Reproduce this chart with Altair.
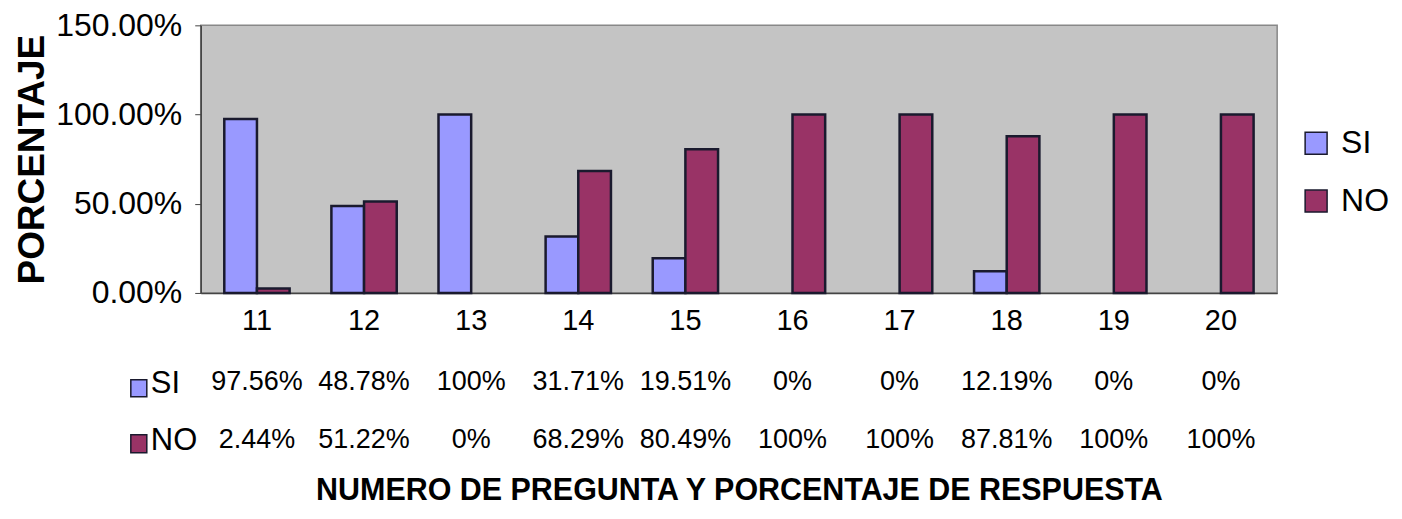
import altair as alt
import pandas as pd

preguntas = ["11", "12", "13", "14", "15", "16", "17", "18", "19", "20"]
si_vals = [97.56, 48.78, 100, 31.71, 19.51, 0, 0, 12.19, 0, 0]
no_vals = [2.44, 51.22, 0, 68.29, 80.49, 100, 100, 87.81, 100, 100]
si_text = ["97.56%", "48.78%", "100%", "31.71%", "19.51%", "0%", "0%", "12.19%", "0%", "0%"]
no_text = ["2.44%", "51.22%", "0%", "68.29%", "80.49%", "100%", "100%", "87.81%", "100%", "100%"]
series = ["SI", "NO"]
colors = ["#9999FF", "#993366"]

rows = []
for i, p in enumerate(preguntas):
    rows.append({"pregunta": p, "serie": "SI", "valor": si_vals[i], "texto": si_text[i]})
    rows.append({"pregunta": p, "serie": "NO", "valor": no_vals[i], "texto": no_text[i]})
df = pd.DataFrame(rows)

W, H = 1078, 268
FONT = "Liberation Sans"

x_enc = alt.X("pregunta:N", sort=preguntas,
              scale=alt.Scale(paddingInner=0.39, paddingOuter=0.22),
              axis=alt.Axis(title="NUMERO DE PREGUNTA Y PORCENTAJE DE RESPUESTA",
                            labelAngle=0, labelFontSize=29, labelFont=FONT, labelColor="black",
                            labelPadding=14, ticks=False, domainColor="#444444", domainWidth=1.5,
                            titleFont=FONT, titleFontSize=30.5, titleFontWeight="bold",
                            titleColor="black", titlePadding=140))
color_enc = alt.Color("serie:N", sort=series,
                      scale=alt.Scale(domain=series, range=colors),
                      legend=alt.Legend(title=None, orient="none", legendX=1101, legendY=102,
                                        symbolType="square", symbolSize=484,
                                        symbolStrokeColor="#1a1a2e", symbolStrokeWidth=1.5,
                                        labelFont=FONT, labelFontSize=32, labelColor="black",
                                        rowPadding=26, labelOffset=9))

bars = alt.Chart(df).transform_filter("datum.valor > 0").mark_bar(
    stroke="#1a1a2e", strokeWidth=2.5
).encode(
    x=x_enc,
    xOffset=alt.XOffset("serie:N", sort=series, scale=alt.Scale(domain=series, paddingInner=0, paddingOuter=0)),
    y=alt.Y("valor:Q", scale=alt.Scale(domain=[0, 150]),
            axis=alt.Axis(title="PORCENTAJE", values=[0, 50, 100, 150],
                          labelExpr="format(datum.value/100, '.2%')",
                          labelFont=FONT, labelFontSize=32, labelColor="black", labelPadding=13,
                          grid=False, tickSize=6, tickColor="#444444", domainColor="#444444",
                          domainWidth=1.5,
                          titleFont=FONT, titleFontSize=37, titleFontWeight="bold",
                          titleColor="black", titlePadding=4)),
    color=color_enc,
)

tabla_si = alt.Chart(df).transform_filter("datum.serie == 'SI'").mark_text(
    font=FONT, fontSize=27, color="black", baseline="middle"
).encode(x=alt.X("pregunta:N", sort=preguntas), y=alt.value(357), text="texto:N")

tabla_no = alt.Chart(df).transform_filter("datum.serie == 'NO'").mark_text(
    font=FONT, fontSize=27, color="black", baseline="middle"
).encode(x=alt.X("pregunta:N", sort=preguntas), y=alt.value(415), text="texto:N")

df_series = pd.DataFrame({"serie": series})
color_key = alt.Color("serie:N", scale=alt.Scale(domain=series, range=colors), legend=None)
clave_si = alt.Chart(df_series).transform_filter("datum.serie == 'SI'").mark_rect(
    stroke="#1a1a2e", strokeWidth=1.5
).encode(x=alt.value(-70), x2=alt.value(-54), y=alt.value(355), y2=alt.value(372), color=color_key)
clave_no = alt.Chart(df_series).transform_filter("datum.serie == 'NO'").mark_rect(
    stroke="#1a1a2e", strokeWidth=1.5
).encode(x=alt.value(-70), x2=alt.value(-54), y=alt.value(410), y2=alt.value(428), color=color_key)
nombre_si = alt.Chart(df_series).transform_filter("datum.serie == 'SI'").mark_text(
    font=FONT, fontSize=31, color="black", align="left", baseline="middle"
).encode(x=alt.value(-50), y=alt.value(359), text="serie:N")
nombre_no = alt.Chart(df_series).transform_filter("datum.serie == 'NO'").mark_text(
    font=FONT, fontSize=31, color="black", align="left", baseline="middle"
).encode(x=alt.value(-50), y=alt.value(416), text="serie:N")

chart = alt.layer(bars, tabla_si, tabla_no, clave_si, clave_no, nombre_si, nombre_no).properties(
    width=W, height=H, background="white",
    padding={"left": 5, "top": 1, "right": 5, "bottom": 5}
).configure_view(fill="#C4C4C4", stroke="#888888", strokeWidth=1.5)

chart.save("out.html", embed_options={"renderer": "svg", "actions": False})
